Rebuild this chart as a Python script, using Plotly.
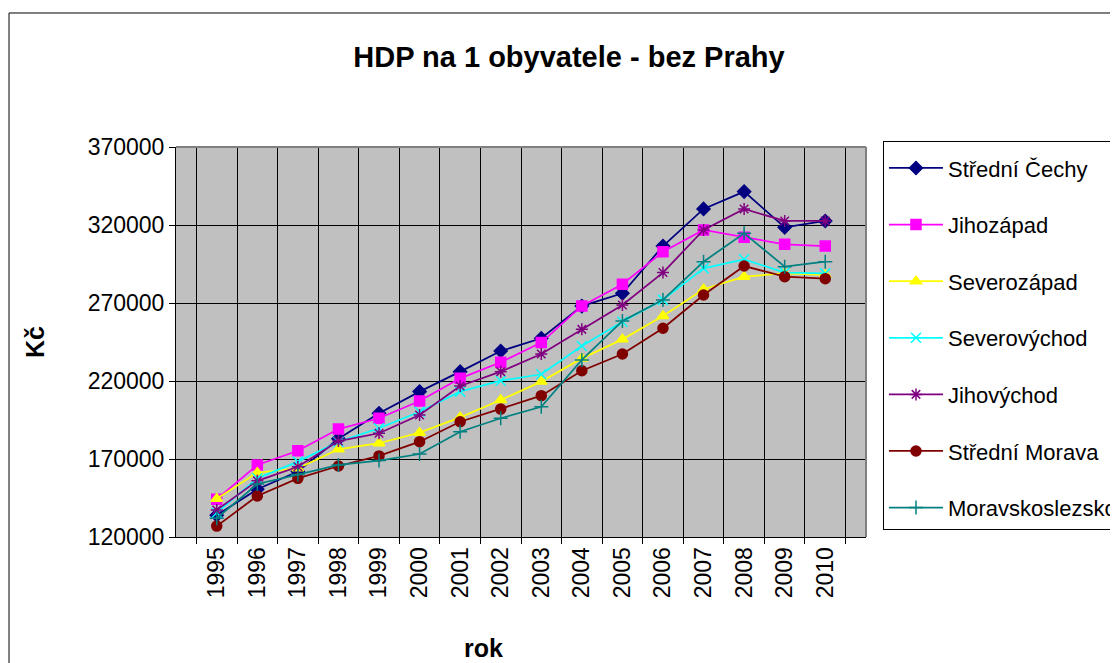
import plotly.graph_objects as go

years = [str(y) for y in range(1995, 2011)]

stredni_cechy = [134000, 150600, 162000, 183000, 199300, 213200, 226000, 239200, 247400, 268000, 276200, 306500, 330300, 341400, 318500, 322600]
jihozapad = [144200, 166200, 175300, 189200, 196100, 207200, 221700, 232000, 244600, 268100, 282000, 302900, 316800, 312100, 307600, 306500]
severozapad = [144500, 161200, 164000, 176200, 180100, 186900, 196700, 207800, 219600, 234500, 246700, 261700, 278800, 286900, 289000, 288000]
severovychod = [135500, 157600, 168300, 181000, 189700, 200300, 213200, 220200, 224300, 242400, 258000, 272000, 292200, 298000, 289500, 289000]
jihovychod = [137300, 156000, 165000, 181500, 186500, 198200, 216800, 226000, 237300, 253100, 268700, 289500, 316800, 330300, 322600, 322600]
stredni_morava = [127000, 146300, 157600, 165500, 172000, 181100, 193900, 202000, 210600, 226600, 237300, 253800, 275100, 293700, 286900, 285600]
moravskoslezsko = [132000, 154000, 160000, 166200, 169000, 173200, 187500, 196100, 203500, 233500, 258500, 272000, 296500, 314700, 293300, 296500]

series = [
    ("Střední Čechy", stredni_cechy, "#000080", "diamond"),
    ("Jihozápad", jihozapad, "#FF00FF", "square"),
    ("Severozápad", severozapad, "#FFFF00", "triangle-up"),
    ("Severovýchod", severovychod, "#00FFFF", "x-thin-open"),
    ("Jihovýchod", jihovychod, "#800080", "asterisk-open"),
    ("Střední Morava", stredni_morava, "#800000", "circle"),
    ("Moravskoslezsko", moravskoslezsko, "#008080", "cross-thin-open"),
]

fig = go.Figure()
for name, vals, color, sym in series:
    fig.add_trace(go.Scatter(
        x=years, y=vals, name=name, mode="lines+markers",
        legendgroup=name,
        line=dict(color=color, width=1.75),
        marker=dict(symbol=sym, size=10, color=color,
                    line=dict(color=color, width=1.5)),
    ))

font_family = "Liberation Sans, Arial, sans-serif"

fig.update_layout(
    width=1118, height=663,
    margin=dict(l=168, r=260, t=139, b=134, autoexpand=False),
    paper_bgcolor="white",
    plot_bgcolor="#C0C0C0",
    font=dict(family=font_family, color="black"),
    title=dict(text="<b>HDP na 1 obyvatele - bez Prahy</b>", x=0.5018, xanchor="center",
               xref="container", yref="container",
               y=0.926, yanchor="middle", font=dict(size=29, color="black")),
    showlegend=True,
    legend=dict(x=1.0246, xanchor="left", y=1.0154, yanchor="top",
                bordercolor="black", borderwidth=1, bgcolor="white",
                font=dict(size=22, color="black"), tracegroupgap=25,
                itemwidth=54, traceorder="grouped", maxheight=1000,
                title=dict(text="&nbsp;", font=dict(size=4))),
    xaxis=dict(
        type="category", tickson="boundaries", showgrid=True, gridcolor="black", gridwidth=1,
        ticks="outside", ticklen=6, tickcolor="black", tickangle=-90,
        showline=True, linecolor="black", linewidth=1,
        tickfont=dict(size=23, color="black"),
    ),
    yaxis=dict(
        range=[120000, 370000], dtick=50000, tick0=120000, tickformat="d",
        showgrid=True, gridcolor="black", gridwidth=1,
        ticks="outside", ticklen=6, tickcolor="black",
        showline=True, linecolor="black", linewidth=1,
        tickfont=dict(size=23, color="black"),
        zeroline=False,
    ),
    annotations=[
        dict(text="<b>rok</b>", xref="paper", yref="paper", x=0.445, y=-0.2846,
             xanchor="center", yanchor="middle", showarrow=False,
             font=dict(size=25, color="black")),
        dict(text="<b>Kč</b>", xref="paper", yref="paper", x=-0.2043, y=0.5,
             xanchor="center", yanchor="middle", showarrow=False, textangle=-90,
             font=dict(size=25, color="black")),
    ],
    shapes=[
        dict(type="line", xref="paper", yref="paper", x0=0, x1=1, y0=1, y1=1,
             line=dict(color="#808080", width=2)),
        dict(type="line", xref="paper", yref="paper", x0=1, x1=1, y0=0, y1=1,
             line=dict(color="#808080", width=2)),
        dict(type="rect", xref="paper", yref="paper", x0=-0.242, x1=1.5, y0=-0.5, y1=1.3436,
             line=dict(color="black", width=1), layer="below"),
    ],
)

fig.write_html("out.html")
